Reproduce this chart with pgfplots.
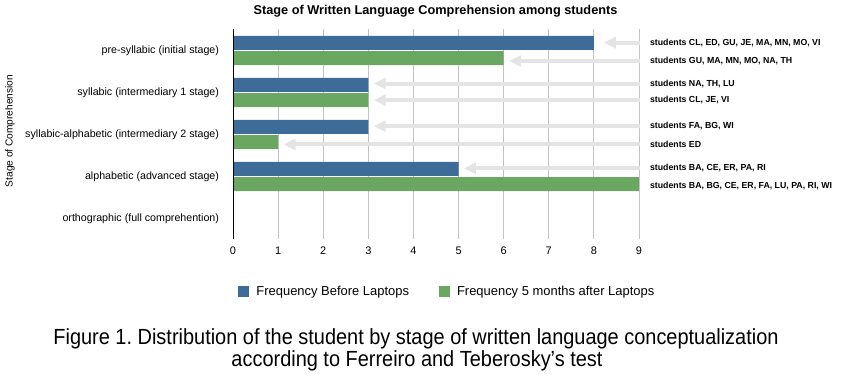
\documentclass[border=0pt]{standalone}
\usepackage{pgfplots}
\pgfplotsset{compat=1.18}
\usepackage{graphicx}
\usepackage{fontspec}
\setmainfont{Liberation Sans}
\usetikzlibrary{arrows.meta}
\definecolor{barblue}{RGB}{61,108,153}
\definecolor{bargreen}{RGB}{106,168,98}
\definecolor{arrowgray}{RGB}{228,228,228}
\definecolor{gridgray}{RGB}{195,195,195}
\begin{document}
\frenchspacing
\begin{tikzpicture}
\path[use as bounding box] (0,0) rectangle (845bp,376bp);
\begin{axis}[
  at={(233bp,346.5bp)}, anchor=north west,
  scale only axis, width=406bp, height=210bp,
  xmin=0, xmax=9, ymin=-0.5, ymax=4.5, y dir=reverse,
  clip=false,
  axis line style={draw=none},
  xtick={0,1,...,9}, ytick={0,1,2,3,4},
  yticklabels={pre-syllabic (initial stage), syllabic (intermediary 1 stage), syllabic-alphabetic (intermediary 2 stage), alphabetic (advanced stage), orthographic (full comprehention)},
  major tick length=0pt,
  xmajorgrids, grid style={gridgray, line width=0.8bp},
  /pgf/number format/assume math mode=true,
  xticklabel style={font=\fontsize{11}{13}\selectfont, yshift=-4bp},
  yticklabel style={font=\fontsize{10.7}{12}\selectfont, xshift=-10.5bp},
  legend style={at={(axis description cs:0.528,-0.25)}, anchor=center, draw=none, fill=none,
    font=\fontsize{13}{15}\selectfont, legend columns=2,
    /tikz/every odd column/.append style={column sep=5bp},
    /tikz/every even column/.append style={column sep=28bp}},
  legend cell align=left,
  legend image code/.code={\fill[#1] (0bp,-5.5bp) rectangle (11bp,5.5bp);},
]
% arrows
\addplot[forget plot, arrowgray, line width=4bp, -{Triangle[length=12bp,width=11bp]}] coordinates {(9.02,-0.186) (8.22,-0.186)};
\addplot[forget plot, arrowgray, line width=4bp, -{Triangle[length=12bp,width=11bp]}] coordinates {(9.02,0.25) (6.12,0.25)};
\addplot[forget plot, arrowgray, line width=4bp, -{Triangle[length=12bp,width=11bp]}] coordinates {(9.02,0.786) (3.12,0.786)};
\addplot[forget plot, arrowgray, line width=4bp, -{Triangle[length=12bp,width=11bp]}] coordinates {(9.02,1.183) (3.12,1.183)};
\addplot[forget plot, arrowgray, line width=4bp, -{Triangle[length=12bp,width=11bp]}] coordinates {(9.02,1.8) (3.12,1.8)};
\addplot[forget plot, arrowgray, line width=4bp, -{Triangle[length=12bp,width=11bp]}] coordinates {(9.02,2.238) (1.12,2.238)};
\addplot[forget plot, arrowgray, line width=4bp, -{Triangle[length=12bp,width=11bp]}] coordinates {(9.02,2.805) (5.12,2.805)};
% bars
\addplot[xbar, bar width=14bp, bar shift=0pt, fill=barblue, draw=none]
  coordinates {(8,-0.18) (3,0.82) (3,1.82) (5,2.82) (0,3.82)};
\addlegendentry{Frequency Before Laptops}
\addplot[xbar, bar width=14bp, bar shift=0pt, fill=bargreen, draw=none]
  coordinates {(6,0.18) (3,1.18) (1,2.18) (9,3.18) (0,4.18)};
\addlegendentry{Frequency 5 months after Laptops}
\draw[black, line width=0.8bp] (axis cs:0,-0.5) -- (axis cs:0,4.5);
% annotations
\tikzset{lab/.style={anchor=west, font=\bfseries\fontsize{8.8}{10}\selectfont, inner sep=0pt}}
\node[lab] at (axis cs:9.24,-0.186) {students CL, ED, GU, JE, MA, MN, MO, VI};
\node[lab] at (axis cs:9.24,0.25) {students GU, MA, MN, MO, NA, TH};
\node[lab] at (axis cs:9.24,0.786) {students NA, TH, LU};
\node[lab] at (axis cs:9.24,1.183) {students CL, JE, VI};
\node[lab] at (axis cs:9.24,1.8) {students FA, BG, WI};
\node[lab] at (axis cs:9.24,2.238) {students ED};
\node[lab] at (axis cs:9.24,2.805) {students BA, CE, ER, PA, RI};
\node[lab] at (axis cs:9.24,3.22) {students BA, BG, CE, ER, FA, LU, PA, RI, WI};
\end{axis}
\node[font=\bfseries\fontsize{12.8}{14}\selectfont] at (435.5bp,365bp) {Stage of Written Language Comprehension among students};
\node[rotate=90, font=\fontsize{10.2}{12}\selectfont] at (10bp,245bp) {Stage of Comprehension};
\node[anchor=base, inner sep=0pt, font=\fontsize{22}{24}\selectfont] at (416bp,32bp) {\scalebox{0.91}[1]{Figure 1. Distribution of the student by stage of written language conceptualization}};
\node[anchor=base, inner sep=0pt, font=\fontsize{22}{24}\selectfont] at (417bp,10bp) {\scalebox{0.91}[1]{according to Ferreiro and Teberosky’s test}};
\end{tikzpicture}
\end{document}
